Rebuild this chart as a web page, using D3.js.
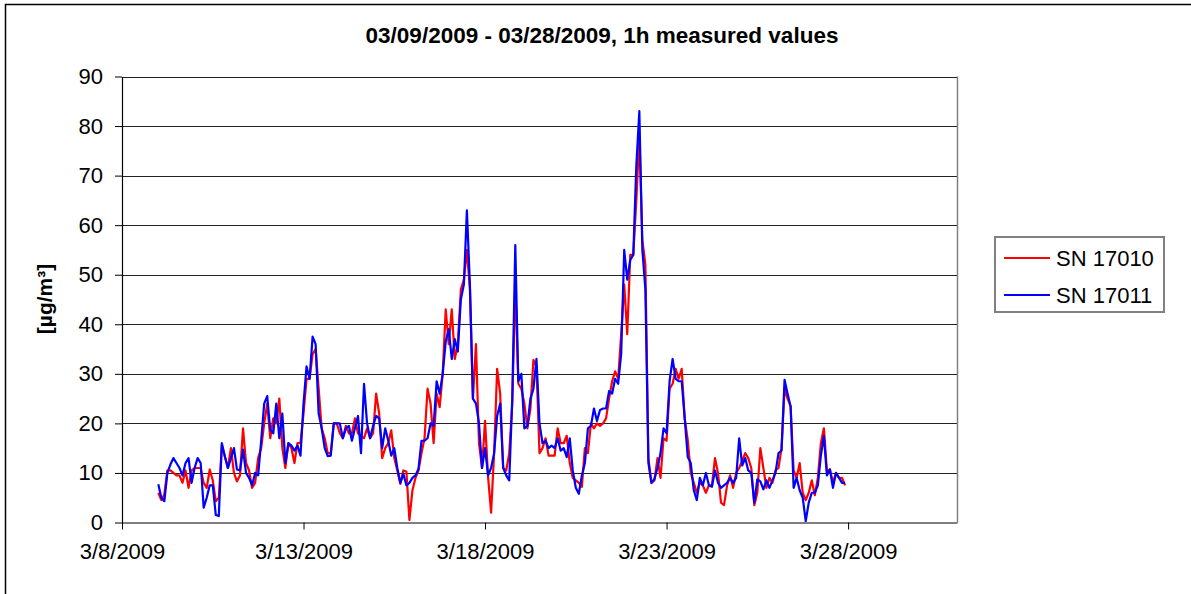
<!DOCTYPE html>
<html><head><meta charset="utf-8">
<script src="https://cdn.jsdelivr.net/npm/d3@7"></script>
<style>
html,body{margin:0;padding:0;background:#fff;}
svg{display:block;font-family:"Liberation Sans",Arial,sans-serif;}
</style></head>
<body>
<svg id="chart" width="1191" height="594"></svg>
<script>
// ---- data (2-hour readings from 2009-03-09 00:00 UTC) ----
const title = "03/09/2009 - 03/28/2009, 1h measured values";
const yTitle = "[µg/m³]";
const seriesNames = ["SN 17010", "SN 17011"];
const seriesColors = ["#ff0000", "#0000ff"];
const startTime = Date.UTC(2009, 2, 9, 0);
const stepHours = 2;
const yTicks = [0, 10, 20, 30, 40, 50, 60, 70, 80, 90];
const xTickDates = [Date.UTC(2009,2,8), Date.UTC(2009,2,13), Date.UTC(2009,2,18), Date.UTC(2009,2,23), Date.UTC(2009,2,28)];
const xDomain = [Date.UTC(2009,2,8), Date.UTC(2009,2,31)];

const sn17010 = [
6,4.5,5.7,10.5,10.5,10,9.5,9.5,8,10.5,7,10.5,11,11,11,8,7,10.7,8.5,4.3,
5,15.7,13.3,11,15,10,8.3,9.5,19,12,10.5,7,8,13,15,20,24,17,21,20,
25,15,11,16,15,12,16,16,22,29,29,34,35,27,19,17,14,14,20,20,
18,17,19.5,18,18,21,18,17.5,17,19,17,18,26,22,13,15,16,18.6,13,10.5,
7.8,10.5,10.3,0.5,6.5,9,10.5,14,17,27,24,16,26,23.3,30,43,36,43,33,36,
47,49,55,47,25,36,16,11,20.5,9.2,2,14,31,26,11,10.5,14,24,48,28,
27,24,19,23,32.8,31.5,14,15,17,13.5,13.5,13.5,19,16,16,17.5,12,9,8.5,8,
7.2,15,14,20,19,20,19.5,20,21,25,28.5,30.5,29,38,48,38,54,54,65,78,
57,52,13,8,8.5,13,9,17,16.5,27,28,31,29,31,21,16.6,10,8,6,8,
7.5,6,7.5,7.5,13,10,4,3.5,7.5,9.5,7,10,11,12.5,14,13,11,3.5,6,15,
11,7,9,8,10.5,11,15,27,25,23.5,10.5,9,12,6,4.5,6,8.5,5.5,9,16,
19,10.5,10.7,8,10,9,9,7.5
];
const sn17011 = [
7.7,5,4.3,10,11.7,13,12,11,9.5,12,13,8,11,13,12,3,5,7.5,7.5,1.5,
1.3,16,13.3,11,13,15,10.7,10.5,14.7,10,9,7.5,10,9.5,16.5,24,25.5,18.7,18,24,
17,22,12,16,15.5,14.5,15.5,13.5,24,31.5,29,37.5,36,22,19,15,13.4,13.5,20,20,
20,17,19,19.5,16.5,19,21.5,14,28,20,17,19.5,21.5,21,15,19,16.5,13.5,15,11,
8,9.8,7.5,8,9,9.5,10.8,16.5,16.5,17,20,19.5,28.5,26,30,36.5,39,33,37,34.5,
45,48,63,48,25,24,20,11,15,9.5,11,14,21.5,24,11,9.5,8.5,25,56,28.5,
30,19,19.5,25,27,33,20,16,16.5,15,15.5,15,17,14.5,15,13.2,17,10.5,7,5.8,
9.5,12,19,19.5,23,20.5,22.7,23,23,26.5,26,29,28,34,55,49,53,54,72,83,
55,47,12,8,8.8,11,14,19,18,28.5,33,29,28.5,28.5,21,13.2,12,6.5,4.5,9,
7.5,10,7.5,7.2,10.5,8,7,7.5,8,9,8,9,17,11.5,13,10.5,10,4,8.7,8.3,
6.7,8.5,7,8.5,10,14,14.5,28.8,26,23.4,7,9,6.5,5,0.3,4,6,6,7.5,13.5,
17.5,9.5,10.7,7,10,9,8,8
];
const seriesValues = [sn17010, sn17011];

// ---- layout ----
const svg = d3.select("#chart");
const plot = {left: 122, right: 957, top: 76.5, bottom: 522.5};
const font = 22;

svg.append("rect").attr("x", 5.5).attr("y", 4.5).attr("width", 1300).attr("height", 700)
  .attr("fill", "#fff").attr("stroke", "#000").attr("stroke-width", 1.5);

const x = d3.scaleUtc().domain(xDomain).range([plot.left, plot.right]);
const y = d3.scaleLinear().domain([0, 90]).range([plot.bottom, plot.top]);

// gridlines
svg.append("g").selectAll("line").data(yTicks.filter(d => d > 0)).join("line")
  .attr("x1", plot.left).attr("x2", plot.right)
  .attr("y1", d => Math.round(y(d)) + 0.5).attr("y2", d => Math.round(y(d)) + 0.5)
  .attr("stroke", "#222").attr("stroke-width", 1.2);

// plot right border
svg.append("line").attr("x1", plot.right + 0.5).attr("x2", plot.right + 0.5)
  .attr("y1", plot.top).attr("y2", plot.bottom).attr("stroke", "#808080").attr("stroke-width", 1.5);

// y axis
const yAxis = d3.axisLeft(y).tickValues(yTicks).tickSize(7).tickPadding(12).tickSizeOuter(0);
const gy = svg.append("g").attr("transform", `translate(${plot.left},0)`).call(yAxis);
gy.select(".domain").attr("stroke", "#000").attr("stroke-width", 1.2);
gy.selectAll(".tick line").attr("stroke", "#000");
gy.selectAll(".tick text").attr("font-size", font).attr("fill", "#000")
  .attr("font-family", "Liberation Sans, Arial, sans-serif");

// x axis
const xAxis = d3.axisBottom(x).tickValues(xTickDates).tickFormat(d3.utcFormat("%-m/%-d/%Y"))
  .tickSize(7).tickPadding(14).tickSizeOuter(0);
const gx = svg.append("g").attr("transform", `translate(0,${plot.bottom})`).call(xAxis);
gx.select(".domain").attr("stroke", "#000").attr("stroke-width", 1.2);
gx.selectAll(".tick line").attr("stroke", "#000");
gx.selectAll(".tick text").attr("font-size", font).attr("fill", "#000")
  .attr("font-family", "Liberation Sans, Arial, sans-serif");

// series
const line = d3.line()
  .x((d, i) => x(startTime + i * stepHours * 3600000))
  .y(d => y(d));
seriesValues.forEach((vals, k) => {
  svg.append("path").datum(vals).attr("d", line)
    .attr("fill", "none").attr("stroke", seriesColors[k]).attr("stroke-width", 2.2)
    .attr("stroke-linejoin", "round");
});

// title
svg.append("text").attr("x", 602).attr("y", 43).attr("text-anchor", "middle")
  .attr("font-size", 22.5).attr("font-weight", "bold").text(title);

// y title
svg.append("text").attr("transform", "translate(52,299) rotate(-90)")
  .attr("text-anchor", "middle").attr("font-size", 21).attr("font-weight", "bold").text(yTitle);

// legend
const lg = svg.append("g");
lg.append("rect").attr("x", 995).attr("y", 237).attr("width", 169).attr("height", 75)
  .attr("fill", "#fff").attr("stroke", "#808080").attr("stroke-width", 2);
seriesNames.forEach((name, k) => {
  const cy = 258 + k * 37;
  lg.append("line").attr("x1", 1004).attr("x2", 1050).attr("y1", cy).attr("y2", cy)
    .attr("stroke", seriesColors[k]).attr("stroke-width", 2);
  lg.append("text").attr("x", 1056).attr("y", cy + 7.5).attr("font-size", font).text(name);
});
</script>
</body></html>
